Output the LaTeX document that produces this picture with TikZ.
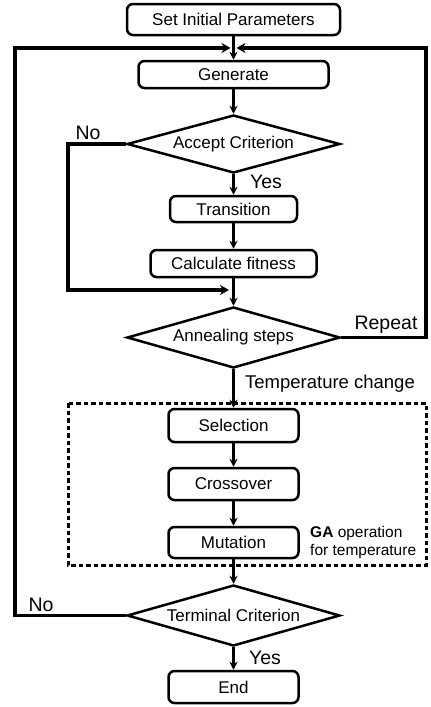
\documentclass[tikz,border=0pt]{standalone}
\usepackage{fontspec}
\setmainfont{Liberation Sans}
\usetikzlibrary{shapes.geometric,arrows.meta}
\begin{document}
\begin{tikzpicture}[x=1pt,y=-1pt,
  box/.style={draw,line width=2.5pt,rounded corners=6pt,inner sep=0pt,font=\fontsize{17}{20}\selectfont},
  dia/.style={draw,diamond,line width=2.5pt,inner sep=0pt,aspect=3.5,minimum width=213pt,font=\fontsize{17}{20}\selectfont},
  arr/.style={line width=2.2pt,-{Stealth[length=8pt,width=8pt]}},
  loop/.style={line width=3.3pt,-{Stealth[length=9pt,width=10pt]}},
  lbl/.style={inner sep=0pt,font=\fontsize{19.5}{22}\selectfont}]
\useasboundingbox (0,0) rectangle (431,707);
\node[box,minimum width=213pt,minimum height=31pt] (init) at (233.5,19.5) {Set Initial Parameters};
\node[box,minimum width=190pt,minimum height=27pt] (gen) at (233.5,74.5) {Generate};
\node[dia,minimum height=58pt] (acc) at (233.5,144) {Accept Criterion};
\node[box,minimum width=127pt,minimum height=26pt] (trans) at (233.5,209) {Transition};
\node[box,minimum width=166pt,minimum height=27pt] (calc) at (233.5,263.5) {Calculate fitness};
\node[dia,minimum height=61pt] (ann) at (233.5,337.5) {Annealing steps};
\node[box,minimum width=130pt,minimum height=33pt] (sel) at (233.5,425.5) {Selection};
\node[box,minimum width=130pt,minimum height=32pt] (cross) at (233.5,484) {Crossover};
\node[box,minimum width=130pt,minimum height=31pt] (mut) at (233.5,542.5) {Mutation};
\node[dia,minimum height=61pt] (term) at (233.5,615.5) {Terminal Criterion};
\node[box,minimum width=130pt,minimum height=32pt] (end) at (233.5,687) {End};

\coordinate (jl) at (230.5,48);
\coordinate (jr) at (236.5,48);
\coordinate (mg) at (229,290);

\draw[line width=3pt,dash pattern=on 4.5pt off 3pt] (68,403) rectangle (426,565);

\draw[arr] (init) -- (gen);
\draw[arr] (gen) -- (acc);
\draw[arr] (acc) -- (trans);
\draw[arr] (trans) -- (calc);
\draw[arr] (calc) -- (ann);
\draw[arr] (ann) -- (sel);
\draw[arr] (sel) -- (cross);
\draw[arr] (cross) -- (mut);
\draw[arr] (mut) -- (term);
\draw[arr] (term) -- (end);

\draw[loop] (acc.west) -- (68,144) -- (68,290) -- (mg);
\draw[loop] (ann.east) -- (426,337.5) -- (426,48) -- (jr);
\draw[loop] (term.west) -- (15,615.5) -- (15,48) -- (jl);

\node[lbl] (no1) at (88,133) {No};
\node[lbl] (yes1) at (266,182) {Yes};
\node[lbl] (rep) at (386,325) {Repeat};
\node[lbl,font=\fontsize{18.5}{22}\selectfont] (tc) at (330,384) {Temperature change};
\node[lbl] (no2) at (41,605) {No};
\node[lbl] (yes2) at (265,658) {Yes};
\node[inner sep=0pt,anchor=west,align=left,font=\fontsize{15.5}{18}\selectfont] (ga) at (310,542) {\textbf{GA} operation\\for temperature};
\end{tikzpicture}
\end{document}
